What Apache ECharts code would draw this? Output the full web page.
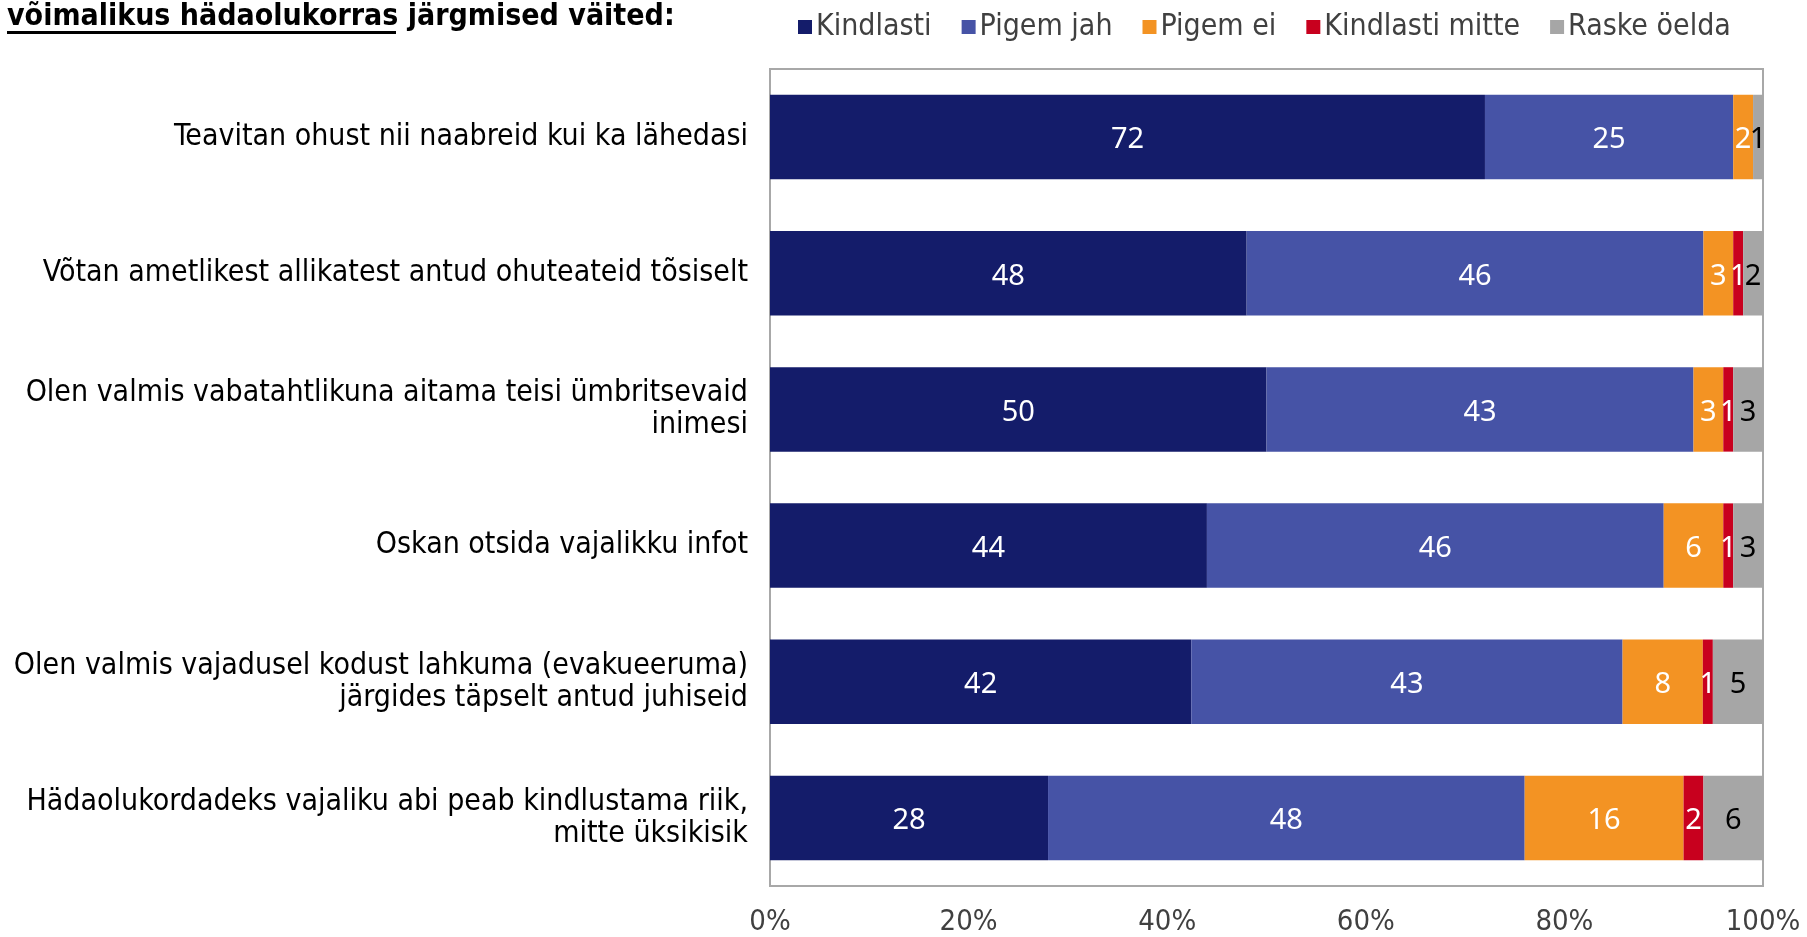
<!DOCTYPE html>
<html>
<head>
<meta charset="utf-8">
<script src="https://cdn.jsdelivr.net/npm/echarts@6/dist/echarts.min.js"></script>
<style>
  html, body { margin: 0; padding: 0; background: #fff; }
  #main { width: 1807px; height: 937px; }
</style>
</head>
<body>
<div id="main"></div>
<script>
var myChart = echarts.init(document.getElementById("main"));

const categories = [
  "Teavitan ohust nii naabreid kui ka lähedasi",
  "Võtan ametlikest allikatest antud ohuteateid tõsiselt",
  "Olen valmis vabatahtlikuna aitama teisi ümbritsevaid\ninimesi",
  "Oskan otsida vajalikku infot",
  "Olen valmis vajadusel kodust lahkuma (evakueeruma)\njärgides täpselt antud juhiseid",
  "Hädaolukordadeks vajaliku abi peab kindlustama riik,\nmitte üksikisik",
];
const seriesNames = ["Kindlasti", "Pigem jah", "Pigem ei", "Kindlasti mitte", "Raske öelda"];
const kindlasti = [72, 48, 50, 44, 42, 28];
const pigemJah = [25, 46, 43, 46, 43, 48];
const pigemEi = [2, 3, 3, 6, 8, 16];
const kindlastiMitte = [0, 1, 1, 1, 1, 2];
const raskeOelda = [1, 2, 3, 3, 5, 6];
const tickLabels = ["0%", "20%", "40%", "60%", "80%", "100%"];

const colors = ["#141c6a", "#4653a6", "#f39323", "#c8001e", "#a6a6a6"];
const labelColors = ["#fff", "#fff", "#fff", "#fff", "#000"];

const rawData = [kindlasti, pigemJah, pigemEi, kindlastiMitte, raskeOelda];
// 100% virnastus: iga rida jagatakse oma summaga
const totals = categories.map((c, i) => rawData.reduce((s, arr) => s + arr[i], 0));

const series = rawData.map((arr, k) => ({
  name: seriesNames[k],
  type: "bar",
  stack: "total",
  barCategoryGap: "38%",
  data: arr.map((v, i) => (v / totals[i]) * 100),
  itemStyle: { color: colors[k] },
  label: {
    show: true,
    position: "inside",
    color: labelColors[k],
    fontFamily: "Noto Sans",
    fontSize: 29,
    offset: [0, 3],
    formatter: (p) => (arr[p.dataIndex] ? String(arr[p.dataIndex]) : ""),
  },
}));

option = {
  animation: false,
  textStyle: { fontFamily: "DejaVu Sans Condensed, DejaVu Sans" },
  legend: {
    data: seriesNames,
    left: 793,
    top: 7,
    icon: "rect",
    itemWidth: 14,
    itemHeight: 14,
    itemGap: 30,
    textStyle: { fontSize: 30, color: "#404040", padding: [0, 0, 0, -1] },
  },
  grid: {
    left: 770,
    right: 44,
    top: 69,
    bottom: 49,
    show: true,
    borderColor: "#a8a8a8",
    borderWidth: 2,
    containLabel: false,
  },
  xAxis: {
    type: "value",
    min: 0,
    max: 100,
    interval: 20,
    splitLine: { show: false },
    axisLine: { show: false },
    axisTick: { show: false },
    axisLabel: {
      margin: 22,
      fontSize: 29,
      color: "#404040",
      formatter: (v) => tickLabels[v / 20],
    },
  },
  yAxis: {
    type: "category",
    inverse: true,
    data: categories,
    axisLine: { show: false },
    axisTick: { show: false },
    axisLabel: {
      margin: 22,
      fontSize: 30,
      lineHeight: 32,
      color: "#000",
      align: "right",
      padding: [0, 0, 4, 0],
    },
  },
  graphic: [
    {
      type: "text",
      left: 7,
      top: 2,
      style: {
        text: "võimalikus hädaolukorras järgmised väited:",
        font: "bold 30px 'DejaVu Sans Condensed', 'DejaVu Sans'",
        fill: "#000",
      },
    },
    {
      type: "rect",
      left: 7,
      top: 31,
      shape: { width: 389, height: 3 },
      style: { fill: "#000" },
    },
  ],
  series: series,
};
myChart.setOption(option);
</script>
</body>
</html>
